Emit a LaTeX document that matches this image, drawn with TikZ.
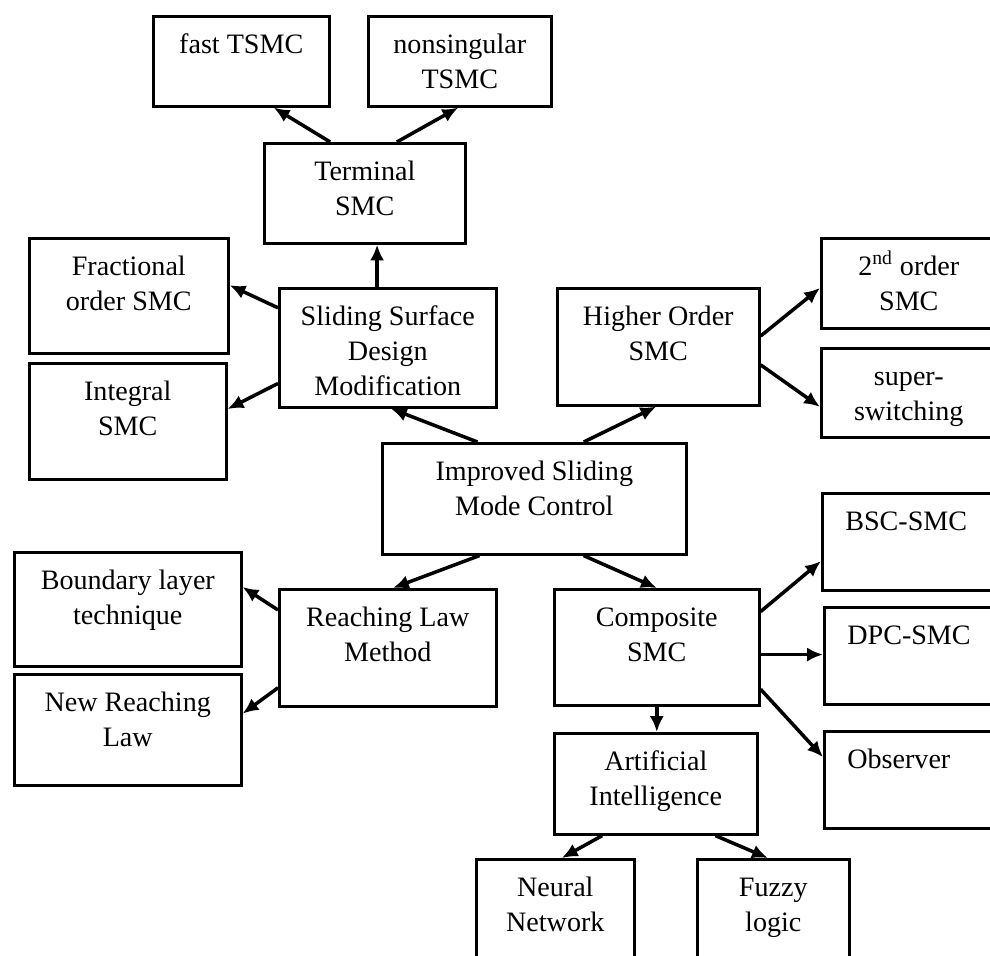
\documentclass[tikz,border=0pt]{standalone}
\usepackage{fontspec}
\setmainfont{Liberation Serif}
\usetikzlibrary{arrows.meta}
\usetikzlibrary{calc}

\begin{document}
\begin{tikzpicture}
	[
	x = 0.02cm, y = -0.02cm,
	> = {Latex[length=9pt,width=8pt]},
	font = \fontsize{16}{19.9}\selectfont,
	box/.style 2 args = {draw, line width=1.5pt, anchor=north west, inner sep=0pt, align=flush center, text width=#1cm, text height=0.75cm, text depth=#2cm},
	rbox/.style = {box={2.66}{1.19}, align=flush left, inner xsep=0.46cm},
	link/.style = {->, line width=2pt}
	]

	\useasboundingbox (0,0) rectangle (990,956);
	\clip (0,0) rectangle (990,956);

	% top branch
	\node[box={3.52}{1.05}] (fast) at (152,15) {fast TSMC};
	\node[box={3.66}{1.05}] (nons) at (367,15) {nonsingular\\TSMC};
	\node[box={4.02}{1.25}] (term) at (263,142) {Terminal\\SMC};
	\node[box={3.98}{1.55}] (frac) at (28,237) {Fractional\\order SMC};
	\node[box={3.94}{1.57}] (integ) at (28,362) {Integral\\SMC};
	\node[box={4.34}{1.63}] (slide) at (278,287) {Sliding Surface\\Design\\Modification};
	\node[box={4.04}{1.59}] (higher) at (556,287) {Higher Order\\SMC};
	\node[box={3.50}{1.05}] (second) at (820,237) {2\textsuperscript{nd} order\\SMC};
	\node[box={3.50}{1.03}] (super) at (820,347) {super-\\switching};

	\node[box={6.08}{1.47}] (isms) at (381,442) {Improved Sliding\\Mode Control};

	% bottom branch
	\node[box={4.54}{1.53}] (bound) at (13,551) {Boundary layer\\technique};
	\node[box={4.54}{1.47}] (newlaw) at (13,673) {New Reaching\\Law};
	\node[box={4.34}{1.59}] (reach) at (278,588) {Reaching Law\\Method};
	\node[box={4.10}{1.57}] (comp) at (553,588) {Composite\\SMC};
	\node[rbox] (bsc) at (821,492) {BSC-SMC};
	\node[rbox] (dpc) at (823,606) {DPC-SMC};
	\node[rbox] (obs) at (823,730) {Observer};
	\node[box={4.06}{1.27}] (ai) at (553,732) {Artificial\\Intelligence};
	\node[box={3.16}{1.69}] (neural) at (475,858) {Neural\\Network};
	\node[box={3.04}{1.69}] (fuzzy) at (696,858) {Fuzzy\\logic};

	\draw[link] (term.124) -- (fast.-55);
	\draw[link] (term.58) -- (nons.-92);
	\draw[link] (slide.100) -- (slide.100 |- term.south);
	\draw[link] (slide.160) -- (frac.6);
	\draw[link] (slide.-162) -- (integ.7);
	\draw[link] (isms.135) -- (slide.-87);
	\draw[link] (isms.49) -- (higher.-92);
	\draw[link] (higher.6) -- (second.183);
	\draw[link] (higher.-10) -- (super.189);

	\draw[link] (isms.-134) -- (reach.85);
	\draw[link] (isms.-49) -- (comp.north);
	\draw[link] (reach.161) -- (bound.11);
	\draw[link] (reach.-160) -- (newlaw.8);
	\draw[link] (comp.19) -- (bsc.192);
	\draw[link] (comp.-4) -- (comp.-4 -| dpc.west);
	\draw[link] (comp.-22) -- (obs.166);
	\draw[link] (comp.south) -- (comp.south |- ai.north);
	\draw[link] (ai.-136) -- (neural.84);
	\draw[link] (ai.-41) -- (fuzzy.95);

\end{tikzpicture}
\end{document}
